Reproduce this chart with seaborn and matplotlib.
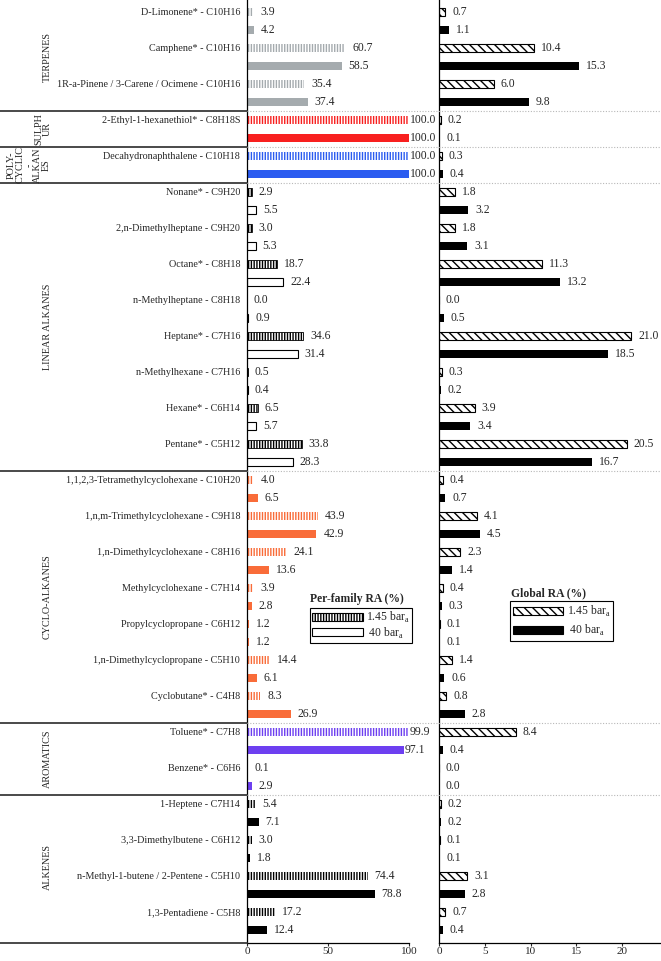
import matplotlib
matplotlib.use("Agg")
import matplotlib.pyplot as plt
from matplotlib.lines import Line2D
from matplotlib.patches import Patch
from matplotlib.transforms import blended_transform_factory
import numpy as np
import pandas as pd
import seaborn as sns

# --- data ---
compounds = [
    "D-Limonene* - C10H16",
    "Camphene* - C10H16",
    "1R-a-Pinene / 3-Carene / Ocimene - C10H16",
    "2-Ethyl-1-hexanethiol* - C8H18S",
    "Decahydronaphthalene - C10H18",
    "Nonane* - C9H20",
    "2,n-Dimethylheptane - C9H20",
    "Octane* - C8H18",
    "n-Methylheptane - C8H18",
    "Heptane* - C7H16",
    "n-Methylhexane - C7H16",
    "Hexane* - C6H14",
    "Pentane* - C5H12",
    "1,1,2,3-Tetramethylcyclohexane - C10H20",
    "1,n,m-Trimethylcyclohexane - C9H18",
    "1,n-Dimethylcyclohexane - C8H16",
    "Methylcyclohexane - C7H14",
    "Propylcyclopropane - C6H12",
    "1,n-Dimethylcyclopropane - C5H10",
    "Cyclobutane* - C4H8",
    "Toluene* - C7H8",
    "Benzene* - C6H6",
    "1-Heptene - C7H14",
    "3,3-Dimethylbutene - C6H12",
    "n-Methyl-1-butene / 2-Pentene - C5H10",
    "1,3-Pentadiene - C5H8",
]
family_names = [
    "TERPENES",
    "SULPH\nUR",
    "POLY-\nCYCLIC\n-\nALKAN\nES",
    "LINEAR ALKANES",
    "CYCLO-ALKANES",
    "AROMATICS",
    "ALKENES",
]
family_sizes = [3, 1, 1, 8, 7, 2, 4]

per_family_145 = [3.9, 60.7, 35.4, 100.0, 100.0, 2.9, 3.0, 18.7, 0.0, 34.6, 0.5, 6.5, 33.8,
                  4.0, 43.9, 24.1, 3.9, 1.2, 14.4, 8.3, 99.9, 0.1, 5.4, 3.0, 74.4, 17.2]
per_family_40 = [4.2, 58.5, 37.4, 100.0, 100.0, 5.5, 5.3, 22.4, 0.9, 31.4, 0.4, 5.7, 28.3,
                 6.5, 42.9, 13.6, 2.8, 1.2, 6.1, 26.9, 97.1, 2.9, 7.1, 1.8, 78.8, 12.4]
global_145 = [0.7, 10.4, 6.0, 0.2, 0.3, 1.8, 1.8, 11.3, 0.0, 21.0, 0.3, 3.9, 20.5,
              0.4, 4.1, 2.3, 0.4, 0.1, 1.4, 0.8, 8.4, 0.0, 0.2, 0.1, 3.1, 0.7]
global_40 = [1.1, 15.3, 9.8, 0.1, 0.4, 3.2, 3.1, 13.2, 0.5, 18.5, 0.2, 3.4, 16.7,
             0.7, 4.5, 1.4, 0.3, 0.1, 0.6, 2.8, 0.4, 0.0, 0.2, 0.1, 2.8, 0.4]

# --- styling ---
family_colors = ["#a5abae", "#f8201f", "#2b5cf0", "#000000", "#f96c39", "#6d3ff0", "#000000"]
LINEAR = 3
VHATCH = "||||||"
DHATCH = "\\\\\\\\"

sns.set_style("white")
plt.rcParams["font.family"] = ["Liberation Serif", "DejaVu Serif"]
plt.rcParams["hatch.linewidth"] = 1.0
FS = 7.3       # compound and family labels
VFS = 8.4      # value labels, legends
TFS = 8.0      # x tick labels

n = len(compounds)
family_of = np.repeat(np.arange(len(family_sizes)), family_sizes)
rows_145 = np.arange(n) * 2
rows_40 = rows_145 + 1

left_df = pd.DataFrame({
    "row": np.concatenate([rows_145, rows_40]),
    "value": per_family_145 + per_family_40,
})
right_df = pd.DataFrame({
    "row": np.concatenate([rows_145, rows_40]),
    "value": global_145 + global_40,
})

W, H = 661, 961
fig = plt.figure(figsize=(W / 100, H / 100), dpi=100)


def px_box(x0, x1, y0, y1):
    return [x0 / W, 1 - y1 / H, (x1 - x0) / W, (y1 - y0) / H]


AX_BOTTOM = 943
ax_l = fig.add_axes(px_box(247, 409, 0, AX_BOTTOM))
ax_r = fig.add_axes(px_box(439, 660, 0, AX_BOTTOM))

ROW0, ROWPX = 12, 18.0
ylim = ((AX_BOTTOM - ROW0) / ROWPX, -ROW0 / ROWPX)

for ax, df in [(ax_l, left_df), (ax_r, right_df)]:
    sns.barplot(data=df, x="value", y="row", orient="h", native_scale=True,
                width=0.42, errorbar=None, color="white", ax=ax)
    ax.set_ylim(*ylim)
    ax.set_xlabel("")
    ax.set_ylabel("")
    sns.despine(ax=ax)
    for side in ["left", "bottom"]:
        ax.spines[side].set_color("black")
        ax.spines[side].set_linewidth(0.9)
    ax.tick_params(axis="x", direction="out", length=2, width=0.8, pad=1,
                   labelsize=TFS, bottom=True)

# style left panel bars
for p in ax_l.patches:
    row = int(round(p.get_y() + p.get_height() / 2))
    fam = family_of[row // 2]
    col = family_colors[fam]
    if row % 2 == 0:
        p.set_facecolor("white")
        p.set_edgecolor(col)
        p.set_hatch(VHATCH)
        p.set_linewidth(0.6 if fam == LINEAR else 0)
    elif fam == LINEAR:
        p.set_facecolor("white")
        p.set_edgecolor("black")
        p.set_linewidth(0.8)
    else:
        p.set_facecolor(col)
        p.set_edgecolor(col)
        p.set_linewidth(0)

# style right panel bars
for p in ax_r.patches:
    row = int(round(p.get_y() + p.get_height() / 2))
    if row % 2 == 0:
        p.set_facecolor("white")
        p.set_edgecolor("black")
        p.set_hatch(DHATCH)
        p.set_linewidth(0.8)
    else:
        p.set_facecolor("black")
        p.set_edgecolor("black")
        p.set_linewidth(0)

# value labels
for rows, vals, ax in [(rows_145, per_family_145, ax_l), (rows_40, per_family_40, ax_l),
                       (rows_145, global_145, ax_r), (rows_40, global_40, ax_r)]:
    for r, v in zip(rows, vals):
        off = 0.5 if (ax is ax_l and v > 95) else 5.0
        ax.annotate(f"{v:.1f}", xy=(v, r), xytext=(off, 0), textcoords="offset points",
                    va="center", ha="left", fontsize=VFS)

ax_l.set_xlim(0, 100)
ax_l.set_xticks([0, 50, 100])
ax_l.set_yticks(rows_145)
ax_l.set_yticklabels(compounds, fontsize=FS)
ax_l.tick_params(axis="y", length=0, pad=5)

ax_r.set_xlim(0, 24.15)
ax_r.set_xticks([0, 5, 10, 15, 20])
ax_r.set_yticks([])

# family table and separators
trans = blended_transform_factory(fig.transFigure, ax_l.transData)
ends = np.cumsum(family_sizes) * 2
starts = ends - np.array(family_sizes) * 2
for e in ends[:-1]:
    y = e - 0.5
    fig.add_artist(Line2D([0, 247 / W], [y, y], transform=trans, color="#3a3a3a", lw=1.3))
    fig.add_artist(Line2D([247 / W, 1], [y, y], transform=trans, color="#b8b8b8",
                          lw=0.8, ls=(0, (1, 1.5))))
fig.add_artist(Line2D([0, 247 / W], [ylim[0], ylim[0]], transform=trans, color="#3a3a3a", lw=1.3))

label_x = [47, 43, 29, 47, 47, 47, 47]
for name, s, e, lx in zip(family_names, starts, ends, label_x):
    fig.text(lx / W, (s + e - 1) / 2, name, transform=trans, rotation=90,
             ha="center", va="center", fontsize=FS, linespacing=0.95,
             multialignment="center")

# legends
sub = "bar$_\\mathregular{a}$"
fig.text(310 / W, 1 - 599 / H, "Per-family RA (%)", fontsize=VFS,
         fontweight="bold", va="center", ha="left")
fig.text(511 / W, 1 - 593 / H, "Global RA (%)", fontsize=VFS,
         fontweight="bold", va="center", ha="left")

leg_kw = dict(loc="upper left", bbox_transform=fig.transFigure, fontsize=VFS,
              frameon=True, fancybox=False, edgecolor="black", framealpha=1,
              handlelength=4.3, handleheight=0.7, handletextpad=0.3,
              borderaxespad=0)
h_left = [Patch(facecolor="white", edgecolor="black", hatch=VHATCH, lw=0.8),
          Patch(facecolor="white", edgecolor="black", lw=0.8)]
leg1 = ax_l.legend(h_left, ["1.45 " + sub, " 40 " + sub],
                   bbox_to_anchor=(310 / W, 1 - 608 / H),
                   labelspacing=0.0, borderpad=0.2, **leg_kw)
leg1.get_frame().set_linewidth(0.8)
h_right = [Patch(facecolor="white", edgecolor="black", hatch=DHATCH, lw=0.8),
           Patch(facecolor="black", edgecolor="black", lw=0.8)]
leg2 = ax_r.legend(h_right, ["1.45 " + sub, " 40 " + sub],
                   bbox_to_anchor=(510 / W, 1 - 601 / H),
                   labelspacing=0.35, borderpad=0.25, **leg_kw)
leg2.get_frame().set_linewidth(0.8)

fig.savefig("out.png", dpi=100)
